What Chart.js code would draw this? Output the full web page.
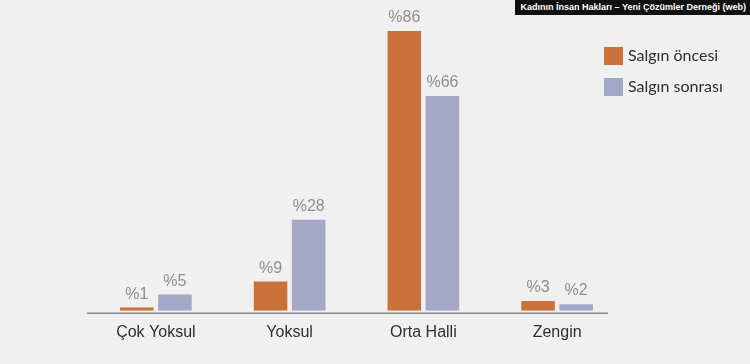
<!DOCTYPE html>
<html>
<head>
<meta charset="utf-8">
<script src="https://cdn.jsdelivr.net/npm/chart.js@4"></script>
<style>
  body { margin: 0; background: #f0f0f0; }
  #wrap { position: relative; width: 750px; height: 364px; }
  #credit {
    position: absolute; right: 0; top: 0; height: 15px; padding: 0 4px 0 6px;
    background: #111; color: #fff; font: bold 9px "Liberation Sans", Arial, sans-serif;
    line-height: 15px; white-space: nowrap;
  }
</style>
</head>
<body>
<div id="wrap">
  <canvas id="chart" width="750" height="364"></canvas>
  <div id="credit">Kadının İnsan Hakları – Yeni Çözümler Derneği (web)</div>
</div>
<script>
// gelir grupları
var categories = ["Çok Yoksul", "Yoksul", "Orta Halli", "Zengin"];
var before = [1, 9, 86, 3];   // Salgın öncesi
var after = [5, 28, 66, 2];   // Salgın sonrası
var seriesNames = ["Salgın öncesi", "Salgın sonrası"];
var colors = ["#c9723a", "#a4a7c6"];

// bar üstündeki % etiketleri
const valueLabels = {
  id: "valueLabels",
  afterDatasetsDraw(chart) {
    const c = chart.ctx;
    c.save();
    c.font = "16px 'Liberation Sans', Arial, sans-serif";
    c.fillStyle = "#8e8e8e";
    c.textAlign = "center";
    c.textBaseline = "alphabetic";
    chart.data.datasets.forEach(function (ds, i) {
      chart.getDatasetMeta(i).data.forEach(function (bar, j) {
        c.fillText("%" + ds.data[j], bar.x, bar.y - 9);
      });
    });
    c.restore();
  }
};

// alt çizgi ve sağdaki açıklama
const decor = {
  id: "decor",
  beforeDatasetsDraw(chart) {
    const c = chart.ctx, a = chart.chartArea;
    c.save();
    c.strokeStyle = "#8a8a8a";
    c.lineWidth = 1.5;
    c.beginPath();
    c.moveTo(a.left - 2, a.bottom + 2.5);
    c.lineTo(a.right - 16, a.bottom + 2.5);
    c.stroke();
    c.restore();
  },
  afterDraw(chart) {
    const c = chart.ctx;
    c.save();
    c.font = "16px Lato, sans-serif";
    c.textBaseline = "middle";
    chart.data.datasets.forEach(function (ds, i) {
      var y = 47 + i * 31;
      c.fillStyle = ds.backgroundColor;
      c.fillRect(604, y, 19, 18);
      c.fillStyle = "#2e2e2e";
      c.fillText(ds.label, 628, y + 9);
    });
    c.restore();
  }
};

new Chart(document.getElementById("chart"), {
  type: "bar",
  data: {
    labels: categories,
    datasets: [
      { label: seriesNames[0], data: before, backgroundColor: colors[0] },
      { label: seriesNames[1], data: after, backgroundColor: colors[1] }
    ]
  },
  options: {
    responsive: false,
    animation: false,
    categoryPercentage: 0.57,
    barPercentage: 0.88,
    layout: { padding: { left: 89, right: 126, top: 18, bottom: 18 } },
    plugins: { legend: { display: false }, tooltip: { enabled: false } },
    scales: {
      x: {
        grid: { display: false },
        border: { display: false },
        ticks: { color: "#2e2e2e", padding: 4, font: { size: 16, family: "'Liberation Sans', Arial, sans-serif" } }
      },
      y: { display: false, min: 0, max: 90 }
    }
  },
  plugins: [valueLabels, decor]
});
</script>
</body>
</html>
